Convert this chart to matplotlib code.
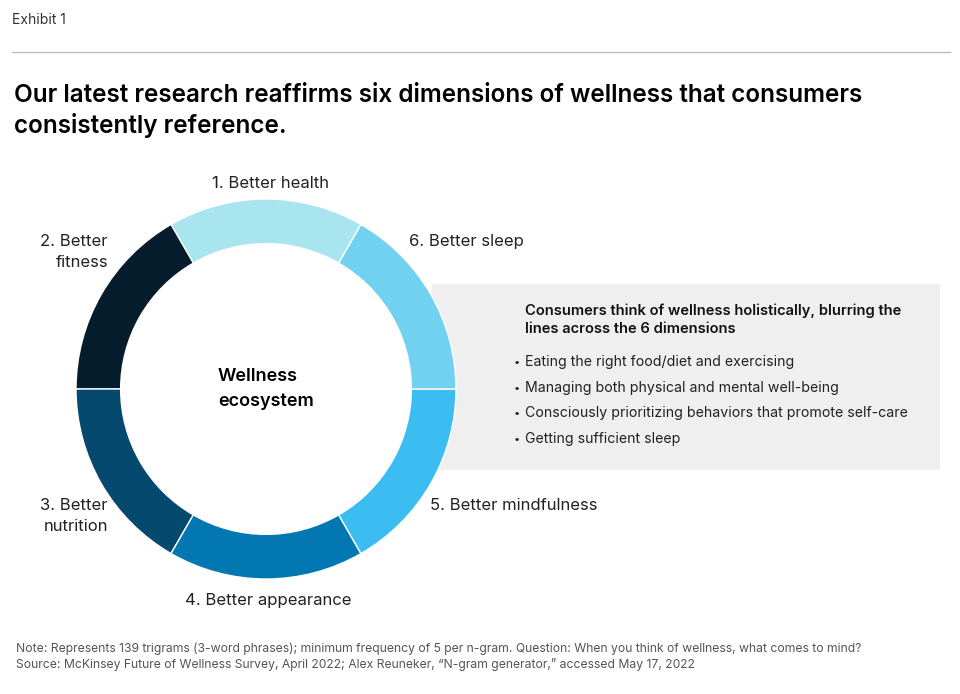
import matplotlib.pyplot as plt
from matplotlib.patches import Rectangle

plt.rcParams['font.family'] = ['Inter', 'DejaVu Sans']

# --- data ---
dimensions = ['1. Better health', '2. Better\nfitness', '3. Better\nnutrition',
              '4. Better appearance', '5. Better mindfulness', '6. Better sleep']
shares = [1, 1, 1, 1, 1, 1]
colors = ['#a9e5ef', '#051c2c', '#054a6e', '#0377b1', '#3bbdf2', '#72d1f1']

title = ('Our latest research reaffirms six dimensions of wellness that consumers\n'
         'consistently reference.')
box_head = ('Consumers think of wellness holistically, blurring the\n'
            'lines across the 6 dimensions')
bullets = ['Eating the right food/diet and exercising',
           'Managing both physical and mental well-being',
           'Consciously prioritizing behaviors that promote self-care',
           'Getting sufficient sleep']
notes = ['Note: Represents 139 trigrams (3-word phrases); minimum frequency of 5 per n-gram. '
         'Question: When you think of wellness, what comes to mind?',
         'Source: McKinsey Future of Wellness Survey, April 2022; Alex Reuneker, '
         '\u201cN-gram generator,\u201d accessed May 17, 2022']

W, H = 960, 694
fig = plt.figure(figsize=(W / 100, H / 100), dpi=100)

# background axes in pixel coords (y down)
bg = fig.add_axes([0, 0, 1, 1])
bg.set_xlim(0, W)
bg.set_ylim(H, 0)
bg.axis('off')

bg.text(12, 20, 'Exhibit 1', fontsize=10, color='#333333', va='center')
bg.plot([12, 950], [52, 52], color='#bdbdbd', lw=1)
bg.text(14, 111, title, fontsize=17.5, fontweight='semibold', color='#000000',
        va='center', linespacing=1.3)

# grey box
bg.add_patch(Rectangle((432, 284), 508, 186, facecolor='#efefef', edgecolor='none', zorder=0))
bg.text(525, 320, box_head, fontsize=10.6, fontweight='semibold', color='#111111',
        va='center', linespacing=1.4)
for i, b in enumerate(bullets):
    y = 362 + i * 25.5
    bg.text(514, y, '\u2022', fontsize=8, color='#222222', va='center')
    bg.text(525, y, b, fontsize=10.2, color='#222222', va='center')

# segment labels
lab_kw = dict(fontsize=12, color='#222222', va='center', linespacing=1.55)
bg.text(270, 183, dimensions[0], ha='center', **lab_kw)
bg.text(108, 252, dimensions[1], ha='right', **lab_kw)
bg.text(108, 516, dimensions[2], ha='right', **lab_kw)
bg.text(268, 600, dimensions[3], ha='center', **lab_kw)
bg.text(430, 505, dimensions[4], ha='left', **lab_kw)
bg.text(409, 241, dimensions[5], ha='left', **lab_kw)

bg.text(218, 389, 'Wellness\necosystem', fontsize=13, fontweight='semibold',
        color='#000000', va='center', linespacing=1.55)

for i, n in enumerate(notes):
    bg.text(16, 649 + i * 15.5, n, fontsize=8.75, color='#555555', va='center')

# donut
cx, cy, r = 266, 389, 190
pie_ax = fig.add_axes([(cx - r) / W, (H - cy - r) / H, 2 * r / W, 2 * r / H])
pie_ax.pie(shares, colors=colors, startangle=60, counterclock=True, radius=1,
           wedgeprops=dict(width=0.235, edgecolor='white', linewidth=1))
pie_ax.set_xlim(-1, 1)
pie_ax.set_ylim(-1, 1)
pie_ax.axis('off')

fig.savefig('out.png', dpi=100)
